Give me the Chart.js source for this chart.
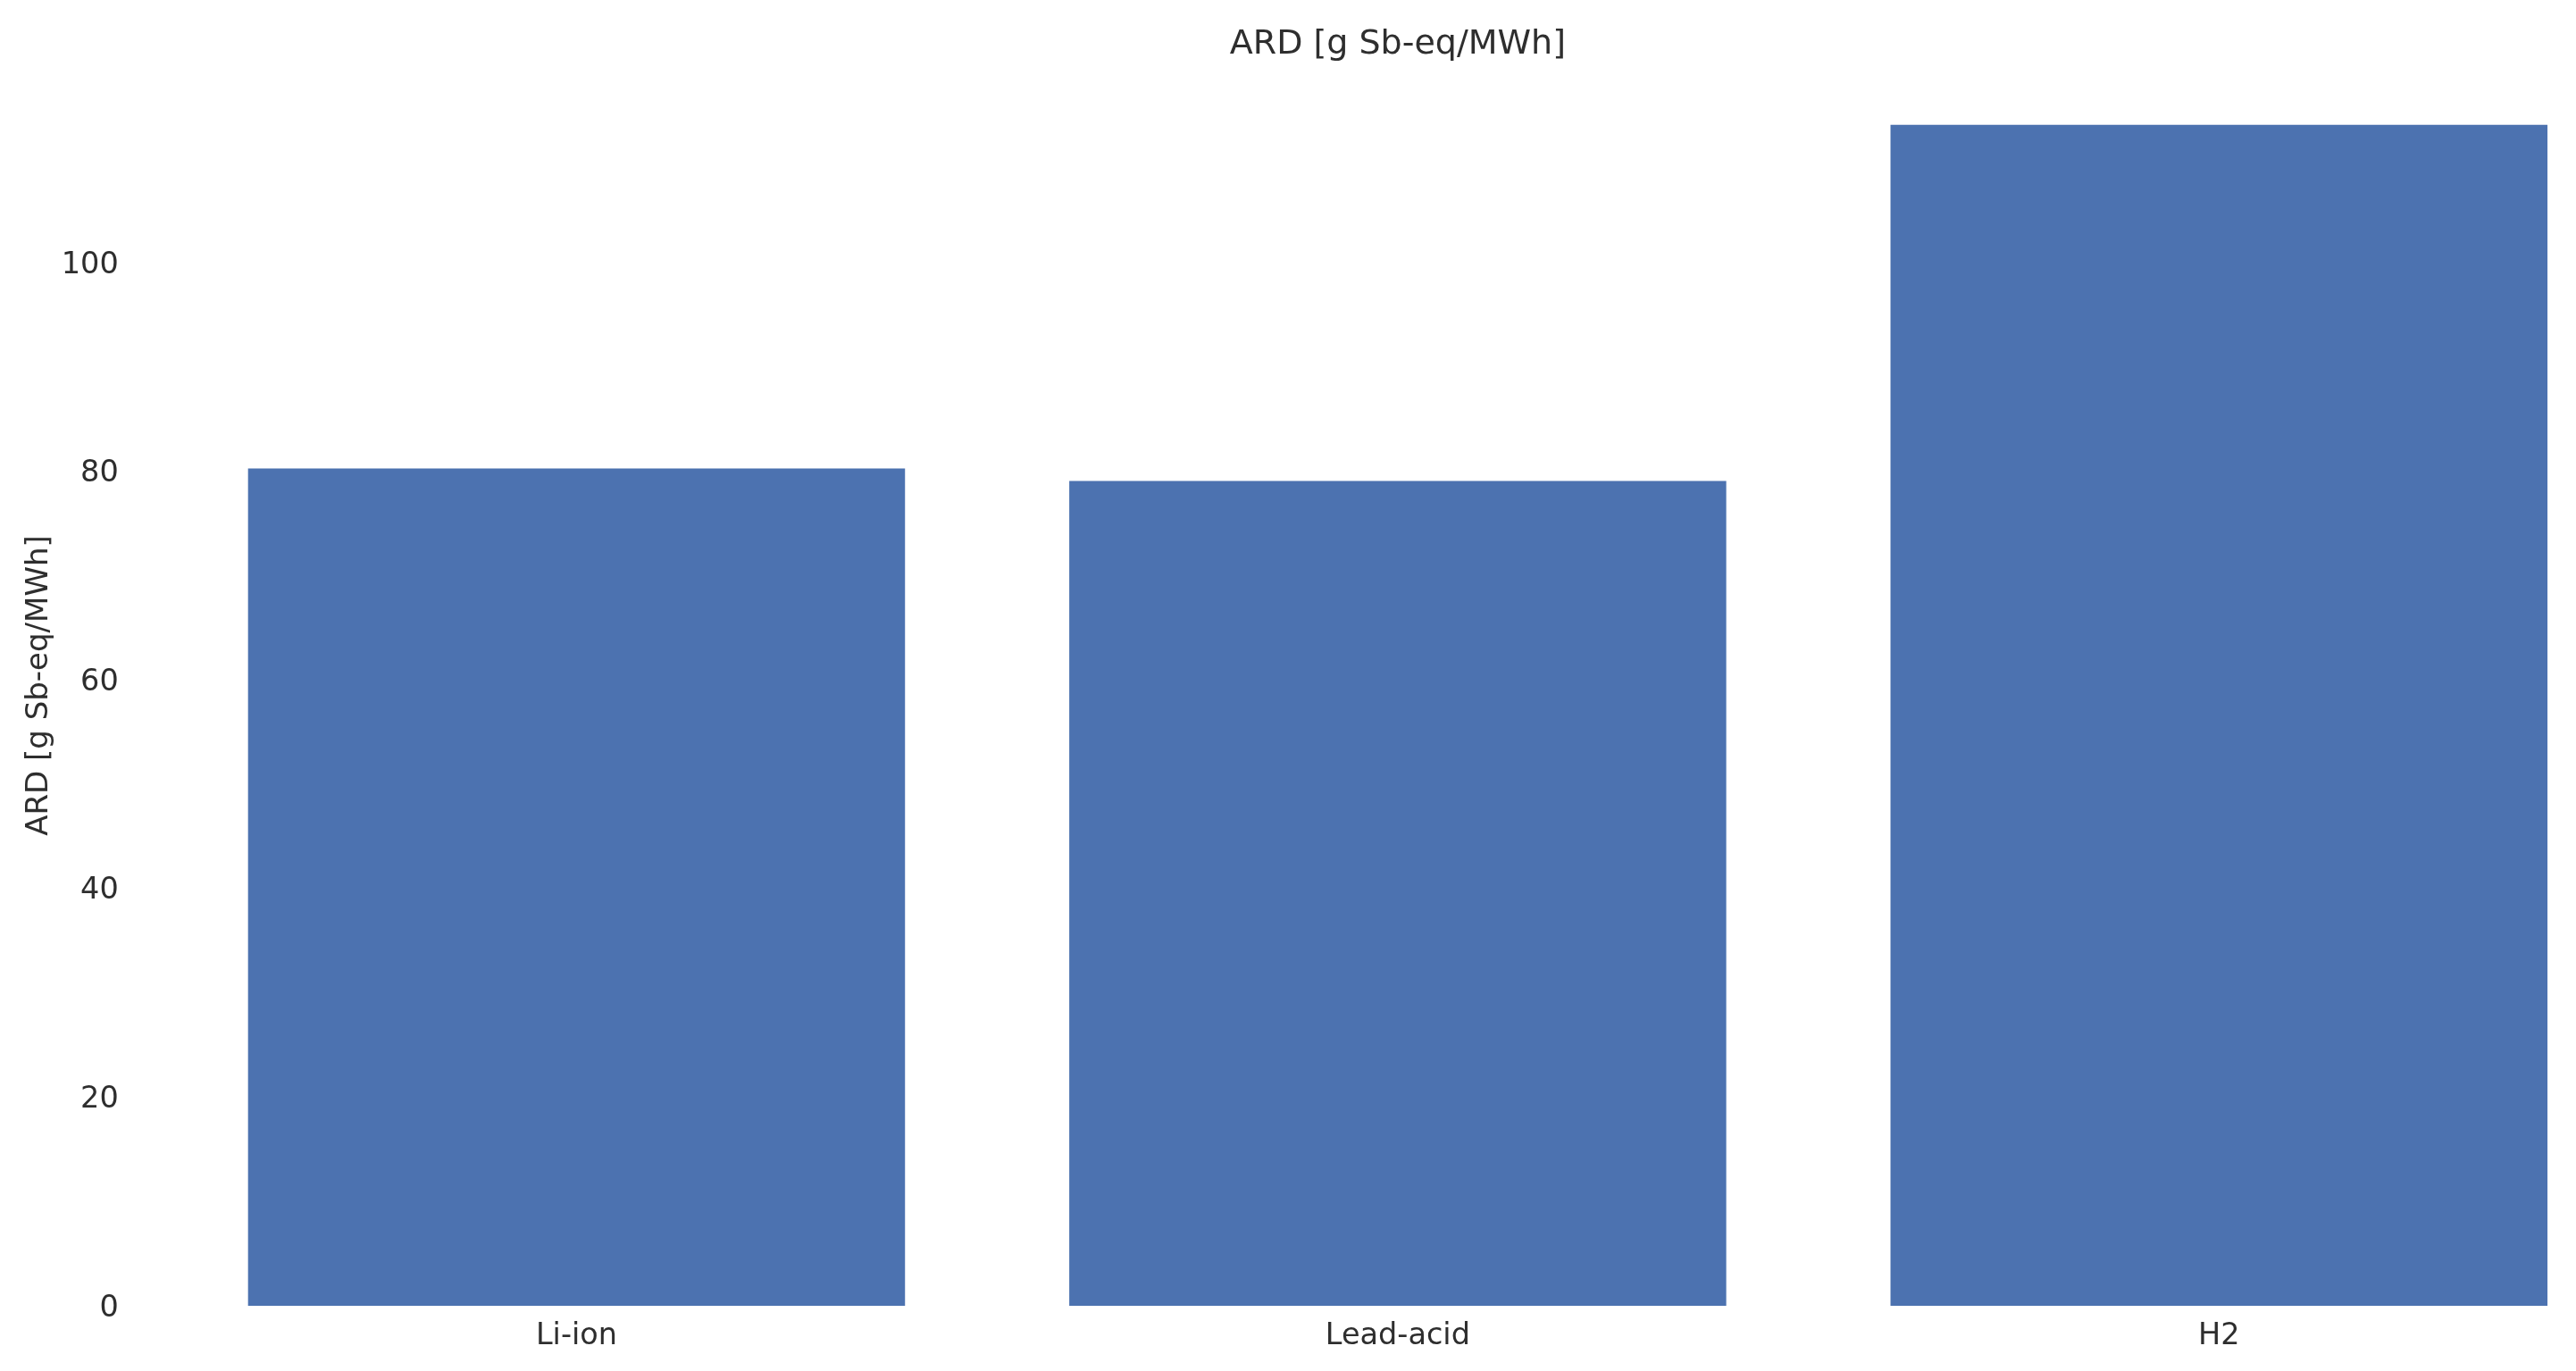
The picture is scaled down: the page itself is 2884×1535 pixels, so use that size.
<!DOCTYPE html>
<html>
<head>
<meta charset="utf-8">
<script src="https://cdn.jsdelivr.net/npm/chart.js@4"></script>
<style>
  html, body { margin: 0; padding: 0; background: #ffffff; overflow: hidden; }
  #wrap { width: 2884px; height: 1535px; overflow: hidden; }
  #c { display: block; }
</style>
</head>
<body>
<div id="wrap"><canvas id="c" width="2944" height="1535"></canvas></div>
<script>
const categories = ["Li-ion", "Lead-acid", "H2"];
const ardValues = [80.25, 79.05, 113.2];
const yTickStep = 20;
const yMax = 118.9;
const chartTitle = "ARD [g Sb-eq/MWh]";
const yAxisTitle = "ARD [g Sb-eq/MWh]";

const textColor = "#2e2e2e";
const fontFamily = "'DejaVu Sans', sans-serif";

new Chart(document.getElementById("c"), {
  type: "bar",
  data: {
    labels: categories,
    datasets: [{
      data: ardValues,
      backgroundColor: "#4c72b0",
      borderWidth: 0,
      categoryPercentage: 1.0,
      barPercentage: 0.8
    }]
  },
  options: {
    responsive: false,
    devicePixelRatio: 1,
    animation: false,
    layout: { padding: { left: 0, right: 0, top: 0, bottom: 0 } },
    plugins: {
      legend: { display: false },
      tooltip: { enabled: false },
      title: {
        display: true,
        text: chartTitle,
        fullSize: false,
        color: textColor,
        font: { family: fontFamily, size: 38, weight: "normal", lineHeight: 1.2 },
        padding: { top: 27, bottom: 0 }
      }
    },
    scales: {
      x: {
        type: "category",
        offset: true,
        grid: { display: false, drawTicks: false },
        border: { display: false },
        ticks: {
          color: textColor,
          font: { family: fontFamily, size: 33.5 },
          padding: 14,
          maxRotation: 0,
          autoSkip: false
        },
        afterFit: (s) => { s.height = 72; }
      },
      y: {
        min: 0,
        max: yMax,
        grid: { display: false, drawTicks: false },
        border: { display: false },
        ticks: {
          stepSize: yTickStep,
          includeBounds: false,
          color: textColor,
          font: { family: fontFamily, size: 33.5 },
          padding: 53,
          labelOffset: 3
        },
        title: {
          display: true,
          text: yAxisTitle,
          color: textColor,
          font: { family: fontFamily, size: 34, lineHeight: 1.2 },
          padding: { top: 23.6, bottom: 0 }
        },
        afterFit: (s) => { s.width = 185.75; }
      }
    }
  }
});
</script>
</body>
</html>
